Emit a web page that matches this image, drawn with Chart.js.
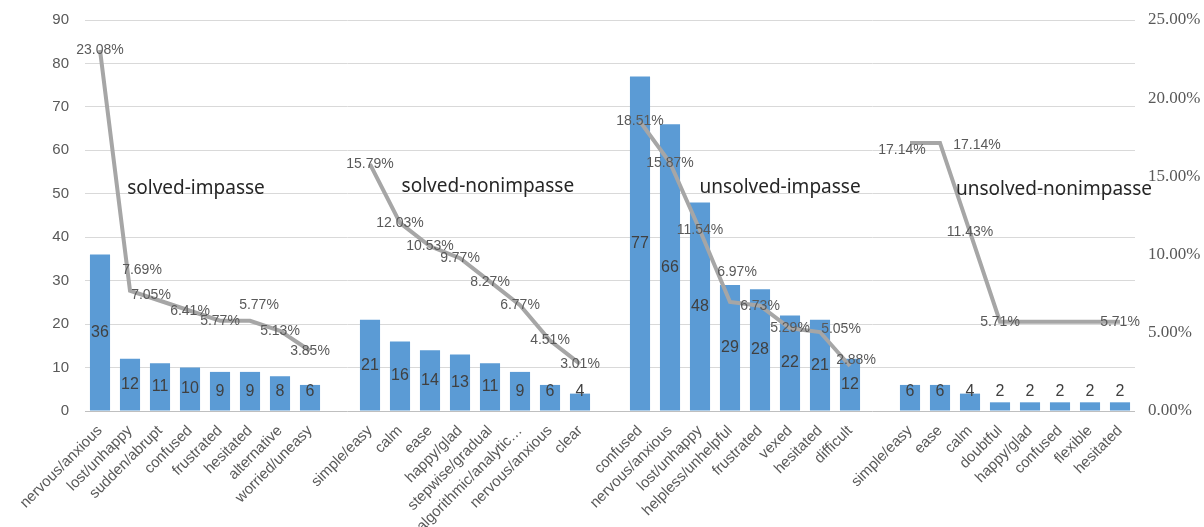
<!DOCTYPE html>
<html>
<head>
<meta charset="utf-8">
<script src="https://cdn.jsdelivr.net/npm/chart.js@4.4.0/dist/chart.umd.min.js"></script>
<style>
  html, body { margin: 0; padding: 0; background: #ffffff; }
  #wrap { width: 1204px; height: 527px; position: relative; overflow: hidden; }
  #chart { position: absolute; left: 0; top: -5px; }
</style>
</head>
<body>
<div id="wrap"><canvas id="chart" width="1204" height="532"></canvas></div>
<script>
// Emotion words per condition (counts on the left axis, share of the condition on the right axis)
const groupNames = ['solved-impasse', 'solved-nonimpasse', 'unsolved-impasse', 'unsolved-nonimpasse'];

const solvedImpasseWords = ['nervous/anxious', 'lost/unhappy', 'sudden/abrupt', 'confused', 'frustrated', 'hesitated', 'alternative', 'worried/uneasy'];
const solvedImpasseCounts = [36, 12, 11, 10, 9, 9, 8, 6];
const solvedImpassePct = [23.08, 7.69, 7.05, 6.41, 5.77, 5.77, 5.13, 3.85];

const solvedNonimpasseWords = ['simple/easy', 'calm', 'ease', 'happy/glad', 'stepwise/gradual', 'algorithmic/analytic\u2026', 'nervous/anxious', 'clear'];
const solvedNonimpasseCounts = [21, 16, 14, 13, 11, 9, 6, 4];
const solvedNonimpassePct = [15.79, 12.03, 10.53, 9.77, 8.27, 6.77, 4.51, 3.01];

const unsolvedImpasseWords = ['confused', 'nervous/anxious', 'lost/unhappy', 'helpless/unhelpful', 'frustrated', 'vexed', 'hesitated', 'difficult'];
const unsolvedImpasseCounts = [77, 66, 48, 29, 28, 22, 21, 12];
const unsolvedImpassePct = [18.51, 15.87, 11.54, 6.97, 6.73, 5.29, 5.05, 2.88];

const unsolvedNonimpasseWords = ['simple/easy', 'ease', 'calm', 'doubtful', 'happy/glad', 'confused', 'flexible', 'hesitated'];
const unsolvedNonimpasseCounts = [6, 6, 4, 2, 2, 2, 2, 2];
const unsolvedNonimpassePct = [17.14, 17.14, 11.43, 5.71, 5.71, 5.71, 5.71, 5.71];

const countTicks = [0, 10, 20, 30, 40, 50, 60, 70, 80, 90];
const pctTicks = [0, 5, 10, 15, 20, 25];

// Join the four groups with an empty slot between them so the line breaks
function joinGroups(parts, gap) {
  const out = [];
  parts.forEach((p, i) => { if (i > 0) out.push(gap); out.push(...p); });
  return out;
}
const labels = joinGroups([solvedImpasseWords, solvedNonimpasseWords, unsolvedImpasseWords, unsolvedNonimpasseWords], '');
const counts = joinGroups([solvedImpasseCounts, solvedNonimpasseCounts, unsolvedImpasseCounts, unsolvedNonimpasseCounts], null);
const pcts = joinGroups([solvedImpassePct, solvedNonimpassePct, unsolvedImpassePct, unsolvedNonimpassePct], null);

// Nudges for percentage labels that were moved off their point; null hides a label
const pctLabelNudge = {
  1: [12, -21], 2: [-9, -6], 5: [9, -16],
  21: [7, -30], 24: [21, -3], 25: [6, -6],
  27: [-8, 7], 28: [37, 2],
  31: null, 32: null, 33: null
};
// Where each group caption sits: [category position, left-axis value]
const captionAnchors = [[3.2, 51.2], [12.93, 51.6], [22.67, 51.4], [31.8, 50.9]];

const labelPlugin = {
  id: 'valueLabels',
  afterDatasetsDraw(chart) {
    const ctx = chart.ctx;
    const xs = chart.scales.x, ys = chart.scales.y;
    ctx.save();
    ctx.textAlign = 'center';
    ctx.textBaseline = 'middle';

    // counts inside the bars
    const barMeta = chart.getDatasetMeta(1);
    ctx.font = '16px "Liberation Sans", Arial, sans-serif';
    ctx.fillStyle = '#404040';
    barMeta.data.forEach((el, i) => {
      const v = counts[i];
      if (v == null) return;
      const mid = (el.y + el.base) / 2;
      const y = Math.min(mid, el.base - 19);
      ctx.fillText(String(v), el.x, y);
    });

    // percentages on the line
    const lineMeta = chart.getDatasetMeta(0);
    ctx.font = '14px "Liberation Sans", Arial, sans-serif';
    ctx.fillStyle = '#595959';
    lineMeta.data.forEach((el, i) => {
      const v = pcts[i];
      if (v == null) return;
      let nudge = [0, 0];
      if (i in pctLabelNudge) {
        if (pctLabelNudge[i] === null) return;
        nudge = pctLabelNudge[i];
      }
      ctx.fillText(v.toFixed(2) + '%', el.x + nudge[0], el.y + nudge[1]);
    });

    // group captions
    ctx.font = '19px "Noto Sans", "Liberation Sans", sans-serif';
    ctx.fillStyle = '#262626';
    const x0 = xs.getPixelForValue(0), x1 = xs.getPixelForValue(1);
    groupNames.forEach((name, g) => {
      const [pos, val] = captionAnchors[g];
      ctx.fillText(name, x0 + (x1 - x0) * pos, ys.getPixelForValue(val));
    });
    ctx.restore();
  }
};

new Chart(document.getElementById('chart'), {
  type: 'bar',
  data: {
    labels: labels,
    datasets: [
      {
        type: 'line',
        label: 'share',
        data: pcts,
        yAxisID: 'y1',
        borderColor: '#a6a6a6',
        borderWidth: 4,
        pointRadius: 0,
        spanGaps: false,
        tension: 0,
        order: 0
      },
      {
        type: 'bar',
        label: 'count',
        data: counts,
        yAxisID: 'y',
        backgroundColor: '#5b9bd5',
        barPercentage: 0.67,
        categoryPercentage: 1,
        order: 1
      }
    ]
  },
  options: {
    responsive: false,
    animation: false,
    devicePixelRatio: 1,
    layout: { padding: { top: 8, left: 0, right: 0, bottom: 0 } },
    plugins: { legend: { display: false }, tooltip: { enabled: false } },
    scales: {
      x: {
        grid: { display: false, drawTicks: false },
        border: { display: false },
        ticks: {
          autoSkip: false, maxRotation: 45, minRotation: 45, padding: 11,
          color: '#595959', font: { size: 15, family: '"Liberation Sans", Arial, sans-serif' }
        },
        afterFit(s) { s.height = 116; }
      },
      y: {
        position: 'left',
        min: countTicks[0], max: countTicks[countTicks.length - 1],
        afterBuildTicks(s) { s.ticks = countTicks.map(v => ({ value: v })); },
        grid: {
          drawTicks: false,
          color: ctx => ctx.tick && ctx.tick.value === 0 ? '#bfbfbf' : '#d9d9d9',
          lineWidth: 1
        },
        border: { display: false },
        ticks: {
          padding: 16, color: '#595959',
          font: { size: 15, family: '"Liberation Sans", Arial, sans-serif' }
        },
        afterFit(s) { s.width = 85; }
      },
      y1: {
        position: 'right',
        min: pctTicks[0], max: pctTicks[pctTicks.length - 1],
        afterBuildTicks(s) { s.ticks = pctTicks.map(v => ({ value: v })); },
        grid: { drawOnChartArea: false, drawTicks: false },
        border: { display: false },
        ticks: {
          padding: 13, color: '#595959',
          font: { size: 17, family: '"Liberation Serif", "Times New Roman", serif' },
          callback: v => Number(v).toFixed(2) + '%'
        },
        afterFit(s) { s.width = 69; }
      }
    }
  },
  plugins: [labelPlugin]
});
</script>
</body>
</html>
